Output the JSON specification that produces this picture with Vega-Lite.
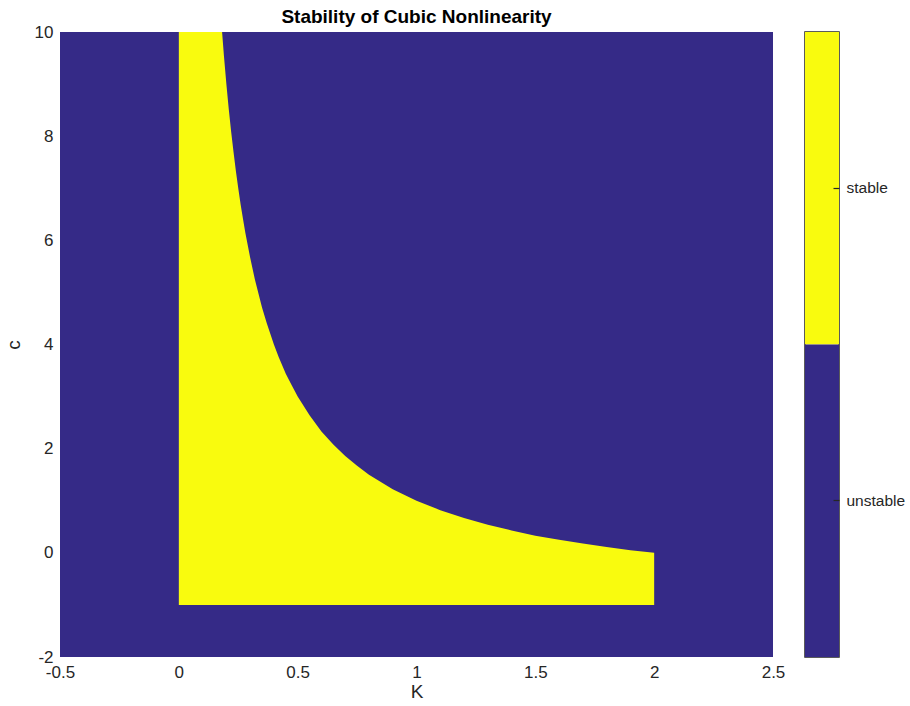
{
  "$schema": "https://vega.github.io/schema/vega-lite/v6.json",
  "padding": {"left": 4, "top": 8, "right": 0, "bottom": 0},
  "bounds": "flush",
  "spacing": 32,
  "background": "white",
  "config": {
    "font": "Liberation Sans",
    "axis": {"labelColor": "#262626", "titleColor": "#262626", "labelFontSize": 17, "titleFontSize": 19, "titleFontWeight": "normal", "grid": false, "domain": false, "ticks": false}
  },
  "datasets": {
    "stable": [
      {"K": 0, "c": 10}, {"K": 0.182, "c": 10}, {"K": 0.19, "c": 9.53}, {"K": 0.2, "c": 9.0},
      {"K": 0.21, "c": 8.52}, {"K": 0.22, "c": 8.09}, {"K": 0.23, "c": 7.7}, {"K": 0.24, "c": 7.33},
      {"K": 0.25, "c": 7.0}, {"K": 0.26, "c": 6.69}, {"K": 0.27, "c": 6.41}, {"K": 0.28, "c": 6.14},
      {"K": 0.3, "c": 5.67}, {"K": 0.32, "c": 5.25}, {"K": 0.35, "c": 4.71}, {"K": 0.37, "c": 4.41},
      {"K": 0.4, "c": 4.0}, {"K": 0.42, "c": 3.76}, {"K": 0.45, "c": 3.44}, {"K": 0.47, "c": 3.26},
      {"K": 0.5, "c": 3.0}, {"K": 0.55, "c": 2.64}, {"K": 0.6, "c": 2.33}, {"K": 0.65, "c": 2.08},
      {"K": 0.7, "c": 1.86}, {"K": 0.75, "c": 1.67}, {"K": 0.8, "c": 1.5}, {"K": 0.9, "c": 1.22},
      {"K": 1.0, "c": 1.0}, {"K": 1.1, "c": 0.82}, {"K": 1.2, "c": 0.67}, {"K": 1.3, "c": 0.54},
      {"K": 1.4, "c": 0.43}, {"K": 1.5, "c": 0.33}, {"K": 1.6, "c": 0.25}, {"K": 1.7, "c": 0.18},
      {"K": 1.8, "c": 0.11}, {"K": 1.9, "c": 0.05}, {"K": 2.0, "c": 0.0}
    ],
    "bar": [{"state": "stable"}, {"state": "unstable"}]
  },
  "hconcat": [
    {
      "title": {"text": "Stability of Cubic Nonlinearity", "fontSize": 19, "fontWeight": "bold", "color": "#000000", "offset": -23, "baseline": "bottom", "anchor": "middle"},
      "width": 713,
      "height": 625,
      "view": {"fill": "#352a87", "stroke": null},
      "data": {"name": "stable"},
      "mark": {"type": "area", "color": "#f9fb0e", "clip": true},
      "encoding": {
        "x": {"field": "K", "type": "quantitative", "scale": {"domain": [-0.5, 2.5], "nice": false, "zero": false},
              "axis": {"values": [-0.5, 0, 0.5, 1, 1.5, 2, 2.5], "labelExpr": "datum.value + ''", "labelPadding": 7, "title": "K", "titlePadding": 2, "labelFlush": false}},
        "y": {"field": "c", "type": "quantitative", "scale": {"domain": [-2, 10], "nice": false, "zero": false},
              "axis": {"values": [-2, 0, 2, 4, 6, 8, 10], "labelExpr": "datum.value + ''", "labelPadding": 7, "title": "c", "titlePadding": 11, "labelFlush": false}},
        "y2": {"datum": -1}
      }
    },
    {
      "width": 34,
      "height": 625,
      "view": {"stroke": "#262626", "strokeWidth": 1.5},
      "data": {"name": "bar"},
      "mark": {"type": "rect"},
      "encoding": {
        "y": {"field": "state", "type": "nominal", "scale": {"domain": ["stable", "unstable"], "paddingInner": 0, "paddingOuter": 0},
              "axis": {"orient": "right", "title": null, "ticks": true, "tickSize": -6, "tickColor": "#262626", "tickWidth": 1.2, "labelPadding": 13, "labelFontSize": 15.5}},
        "color": {"field": "state", "type": "nominal", "scale": {"domain": ["stable", "unstable"], "range": ["#f9fb0e", "#352a87"]}, "legend": null}
      }
    }
  ]
}
